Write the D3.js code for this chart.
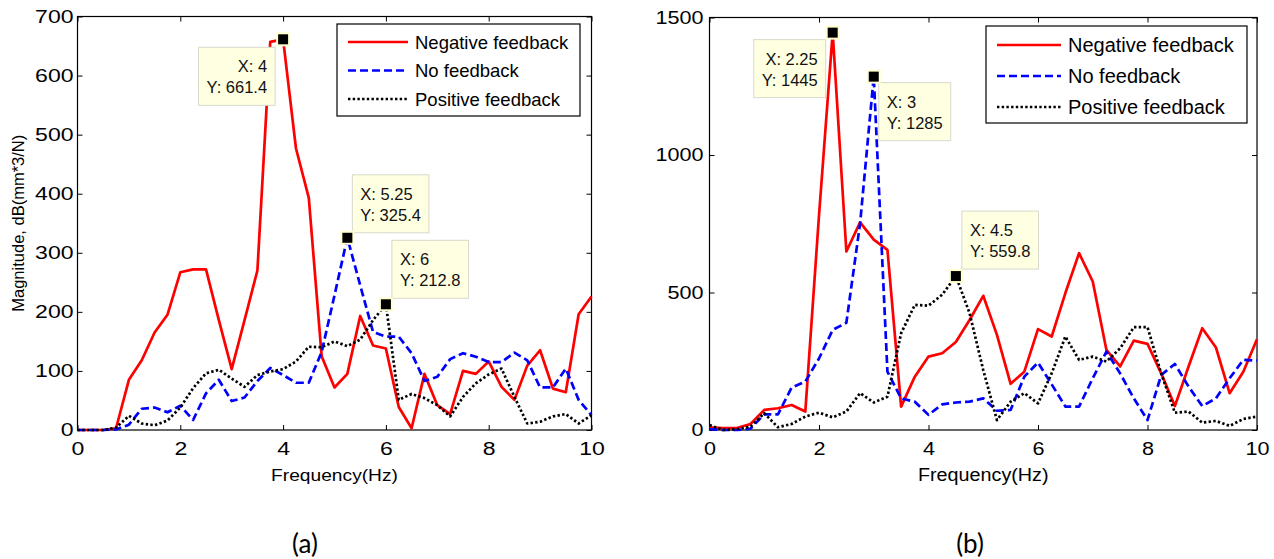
<!DOCTYPE html>
<html lang="en">
<head>
<meta charset="UTF-8">
<title>Frequency response: feedback comparison</title>
<script src="https://d3js.org/d3.v7.min.js"></script>
<style>
  body { margin: 0; background: #fff; }
  svg { display: block; font-family: Arial, "Liberation Sans", sans-serif; }
</style>
</head>
<body>
<svg width="1274" height="559"></svg>
<script>
// frequency grid (Hz), same for every series
const freq = [0, 0.25, 0.5, 0.75, 1, 1.25, 1.5, 1.75, 2, 2.25, 2.5, 2.75, 3, 3.25, 3.5, 3.75,
  4, 4.25, 4.5, 4.75, 5, 5.25, 5.5, 5.75, 6, 6.25, 6.5, 6.75, 7, 7.25, 7.5, 7.75,
  8, 8.25, 8.5, 8.75, 9, 9.25, 9.5, 9.75, 10];

const seriesNames = ["Negative feedback", "No feedback", "Positive feedback"];

// panel (a)
const negA = [0, 0, 0, 3, 85, 118, 165, 195, 267, 272, 272, 186, 103, 186, 270, 657,
  661.4, 477, 393, 125, 72, 95, 193, 143, 138, 39, 3, 95, 42, 27, 100, 95,
  116, 73, 51, 109, 135, 70, 64, 196, 226];
const noA = [0, 0, 0, 1, 9, 36, 38, 30, 41, 17, 62, 85, 49, 55, 83, 105,
  93, 80, 80, 132, 228, 325.4, 245, 166, 158, 158, 130, 83, 90, 120, 130, 124,
  115, 115, 131, 118, 72, 72, 104, 51, 25];
const posA = [0, 0, 0, 4, 24, 11, 8, 16, 38, 71, 96, 102, 87, 73, 93, 99,
  103, 116, 141, 140, 150, 142, 153, 186, 212.8, 51, 61, 54, 42, 23, 56, 79,
  94, 104, 56, 11, 14, 23, 27, 11, 25];
const yTicksA = [0, 100, 200, 300, 400, 500, 600, 700];

// panel (b)
const negB = [10, 7, 7, 22, 73, 79, 91, 67, 780, 1445, 649, 755, 692, 655, 85, 194,
  267, 279, 320, 400, 488, 346, 168, 212, 367, 340, 498, 643, 540, 291, 231, 325,
  313, 206, 87, 231, 370, 300, 134, 212, 330];
const noB = [3, 0, 0, 5, 57, 57, 154, 176, 260, 364, 390, 750, 1285, 212, 115, 103,
  55, 93, 100, 103, 115, 70, 73, 194, 245, 166, 85, 85, 188, 285, 206, 115,
  36, 200, 240, 158, 87, 115, 188, 255, 252];
const posB = [18, 0, 3, 12, 61, 10, 22, 49, 63, 46, 67, 134, 100, 121, 352, 455,
  452, 492, 559.8, 425, 218, 36, 103, 134, 97, 206, 340, 255, 267, 249, 297, 374,
  374, 206, 63, 67, 27, 33, 15, 40, 49];
const yTicksB = [0, 500, 1000, 1500];

const xTicks = [0, 2, 4, 6, 8, 10];

// data tips: [frequency, value, series index]
const tipsA = [[4, 661.4, 0], [5.25, 325.4, 1], [6, 212.8, 2]];
const tipsB = [[2.25, 1445, 0], [3, 1285, 1], [4.5, 559.8, 2]];

const styles = [
  { color: "#ff0000", dash: null },
  { color: "#0000ff", dash: "8,4" },
  { color: "#000000", dash: "2.4,2.3" }
];

const svg = d3.select("svg");

function drawPanel(p) {
  const x = d3.scaleLinear().domain([0, 10]).range([p.left, p.right]);
  const y = d3.scaleLinear().domain([0, p.yMax]).range([p.bottom, p.top]);
  const g = svg.append("g");
  const sx = p.tickStretch;

  // frame
  g.append("rect")
    .attr("x", p.left).attr("y", p.top)
    .attr("width", p.right - p.left).attr("height", p.bottom - p.top)
    .attr("fill", "none").attr("stroke", "#000").attr("stroke-width", 1.2);

  // ticks, inside on all four sides
  const tl = 5;
  g.append("g").attr("transform", `translate(0,${p.bottom})`)
    .call(d3.axisBottom(x).tickValues(xTicks).tickSizeInner(-tl).tickSizeOuter(0).tickPadding(12))
    .attr("font-family", null).attr("font-size", p.tickFont)
    .call(a => a.select(".domain").remove())
    .call(a => a.selectAll("text").attr("fill", "#000").attr("transform", `scale(${sx},1)`));
  g.append("g").attr("transform", `translate(0,${p.top})`)
    .call(d3.axisTop(x).tickValues(xTicks).tickSizeInner(-tl).tickSizeOuter(0).tickFormat(""))
    .call(a => a.select(".domain").remove());
  g.append("g").attr("transform", `translate(${p.left},0)`)
    .call(d3.axisLeft(y).tickValues(p.yTicks).tickSizeInner(-tl).tickSizeOuter(0).tickFormat(d3.format("d")))
    .attr("font-family", null).attr("font-size", p.tickFont)
    .call(a => a.select(".domain").remove())
    .call(a => a.selectAll("text").attr("fill", "#000")
      .attr("x", -p.yPad / sx).attr("transform", `scale(${sx},1)`));
  g.append("g").attr("transform", `translate(${p.right},0)`)
    .call(d3.axisRight(y).tickValues(p.yTicks).tickSizeInner(-tl).tickSizeOuter(0).tickFormat(""))
    .call(a => a.select(".domain").remove());

  // curves
  const line = d3.line().x((d, i) => x(freq[i])).y(d => y(d));
  p.series.forEach((s, k) => {
    g.append("path")
      .datum(s)
      .attr("d", line)
      .attr("fill", "none")
      .attr("stroke", styles[k].color)
      .attr("stroke-width", 2.7)
      .attr("stroke-linejoin", "round")
      .attr("stroke-dasharray", styles[k].dash);
  });

  // data tips
  p.tips.forEach((t, k) => {
    const mx = x(t[0]), my = y(t[1]);
    const off = p.tipOffsets[k];
    const tip = g.append("g");
    const box = tip.append("rect").attr("fill", "#ffffe1").attr("stroke", "#d8d8cc").attr("stroke-width", 1);
    const lines = [`X: ${t[0]}`, `Y: ${t[1]}`];
    const texts = tip.selectAll("text").data(lines).join("text")
      .attr("font-size", p.tipFont).attr("fill", "#111")
      .text(d => d);
    const w = d3.max(texts.nodes(), n => n.getComputedTextLength()) + 16;
    const h = 58;
    const bx = off.side === "left" ? mx - off.dx - w : mx + off.dx;
    const by = off.dy > 0 ? my + off.dy : my + off.dy - h;
    box.attr("x", bx).attr("y", by).attr("width", w).attr("height", h);
    texts
      .attr("x", off.side === "left" ? bx + w - 8 : bx + 8)
      .attr("text-anchor", off.side === "left" ? "end" : "start")
      .attr("y", (d, i) => by + 25 + i * 21);
    g.append("rect")
      .attr("x", mx - 6).attr("y", my - 6).attr("width", 12).attr("height", 12)
      .attr("fill", "#000").attr("stroke", "#ffffd0").attr("stroke-width", 2);
  });

  // legend
  const L = p.legend;
  const lg = g.append("g");
  lg.append("rect")
    .attr("x", L.x).attr("y", L.y).attr("width", L.w).attr("height", L.h)
    .attr("fill", "#fff").attr("stroke", "#000").attr("stroke-width", 1.2);
  seriesNames.forEach((name, k) => {
    const ry = L.y + L.row0 + k * L.rowGap;
    lg.append("line")
      .attr("x1", L.x + 11).attr("x2", L.x + 11 + L.sample)
      .attr("y1", ry).attr("y2", ry)
      .attr("stroke", styles[k].color).attr("stroke-width", 2.7)
      .attr("stroke-dasharray", styles[k].dash);
    lg.append("text")
      .attr("x", L.x + 18 + L.sample).attr("y", ry + L.font * 0.36)
      .attr("font-size", L.font).attr("fill", "#000")
      .text(name);
  });

  // axis titles
  g.append("text")
    .attr("transform", `translate(${(p.left + p.right) / 2},${p.bottom + 51}) scale(${p.labelStretch},1)`)
    .attr("text-anchor", "middle").attr("font-size", p.labelFont)
    .text("Frequency(Hz)");
  if (p.yLabel) {
    g.append("text")
      .attr("transform", `translate(24,${(p.top + p.bottom) / 2}) rotate(-90)`)
      .attr("text-anchor", "middle").attr("font-size", 16.5)
      .text(p.yLabel);
  }
  g.append("text")
    .attr("x", p.captionX).attr("y", 553)
    .attr("text-anchor", "middle").attr("font-size", 26)
    .attr("font-family", "Lato, 'Open Sans', sans-serif")
    .text(p.caption);
}

drawPanel({
  left: 77.5, right: 591.5, top: 16.5, bottom: 430, yMax: 700,
  yTicks: yTicksA, yPad: 4, tickFont: 18, tickStretch: 1.28,
  labelFont: 17, labelStretch: 1.13, tipFont: 16.5,
  series: [negA, noA, posA], tips: tipsA,
  tipOffsets: [{ side: "left", dx: 8, dy: 8 }, { side: "right", dx: 5, dy: -5 }, { side: "right", dx: 6, dy: -6 }],
  legend: { x: 337, y: 24, w: 243, h: 92, row0: 18, rowGap: 28.5, sample: 60, font: 18.5 },
  yLabel: "Magnitude, dB(mm*3/N)", caption: "(a)", captionX: 305
});

drawPanel({
  left: 709.5, right: 1257, top: 17.5, bottom: 430, yMax: 1500,
  yTicks: yTicksB, yPad: 6, tickFont: 18, tickStretch: 1.2,
  labelFont: 17.5, labelStretch: 1.13, tipFont: 16.5,
  series: [negB, noB, posB], tips: tipsB,
  tipOffsets: [{ side: "left", dx: 7, dy: 7 }, { side: "right", dx: 5, dy: 6 }, { side: "right", dx: 6, dy: -7 }],
  legend: { x: 986, y: 26, w: 261, h: 97, row0: 19, rowGap: 31, sample: 64, font: 20 },
  yLabel: null, caption: "(b)", captionX: 970
});
</script>
</body>
</html>
